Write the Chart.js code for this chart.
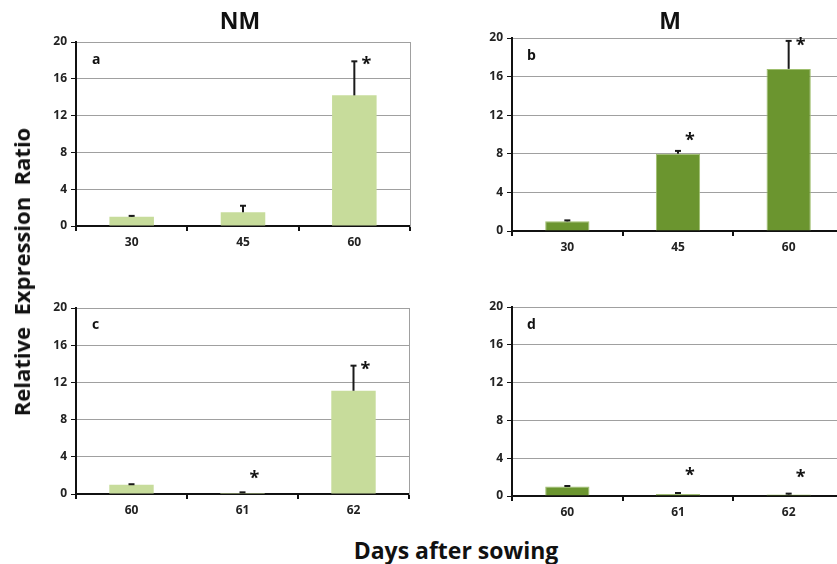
<!DOCTYPE html>
<html><head><meta charset="utf-8">
<script src="https://cdn.jsdelivr.net/npm/chart.js@4"></script>
<style>
html,body{margin:0;padding:0;width:837px;height:564px;overflow:hidden;background:#fff;font-family:"Open Sans",sans-serif;}
.box{position:absolute;}
.t{position:absolute;font-weight:bold;color:#111;white-space:nowrap;}
</style></head><body>
<div class="box" style="left:30px;top:30px;width:386px;height:220px;"><canvas id="ca"></canvas></div>
<div class="box" style="left:466px;top:26px;width:390px;height:229px;"><canvas id="cb"></canvas></div>
<div class="box" style="left:30px;top:296px;width:386px;height:222px;"><canvas id="cc"></canvas></div>
<div class="box" style="left:466px;top:295px;width:390px;height:225px;"><canvas id="cd"></canvas></div>
<div class="t" style="left:240px;top:20px;font-size:23px;transform:translate(-50%,-50%);">NM</div>
<div class="t" style="left:670px;top:20px;font-size:23px;transform:translate(-50%,-50%);">M</div>
<div class="t" id="ytitle" style="left:21px;top:272px;font-size:22px;transform:translate(-50%,-50%) rotate(-90deg);">Relative&nbsp; Expression&nbsp; Ratio</div>
<div class="t" style="left:456px;top:550px;font-size:23px;transform:translate(-50%,-50%);">Days after sowing</div>
<div class="t" style="left:92px;top:49px;font-size:14px;">a</div>
<div class="t" style="left:527px;top:45px;font-size:14px;">b</div>
<div class="t" style="left:92px;top:314px;font-size:14px;">c</div>
<div class="t" style="left:527px;top:314px;font-size:14px;">d</div>
<script>
// Categories (days after sowing)
const daysTop = ["30", "45", "60"];
const daysBottom = ["60", "61", "62"];
// Relative expression ratio (mean) and upper error
const nmTop = [1.0, 1.5, 14.2];
const nmTopErr = [0.1, 0.7, 3.7];
const mTop = [1.0, 8.0, 16.8];
const mTopErr = [0.1, 0.3, 2.9];
const nmBottom = [1.0, 0.1, 11.1];
const nmBottomErr = [0.05, 0.08, 2.7];
const mBottom = [1.0, 0.2, 0.15];
const mBottomErr = [0.06, 0.12, 0.1];
// Significance marks (value level where the asterisk sits, null = none)
const nmTopStar = [null, null, 17.8];
const mTopStar = [null, 9.7, 19.5];
const nmBottomStar = [null, 2.0, 13.7];
const mBottomStar = [null, 2.4, 2.2];
const yTicks = [0, 4, 8, 12, 16, 20];

const LIGHT = "#c7dc9b", DARK = "#6b952f";

const errPlugin = {
  id: "errbars",
  afterDatasetsDraw(chart) {
    const ctx = chart.ctx;
    const ds = chart.data.datasets[0];
    const meta = chart.getDatasetMeta(0);
    const ys = chart.scales.y;
    ctx.save();
    meta.data.forEach((bar, i) => {
      const top = ys.getPixelForValue(ds.data[i] + ds.err[i]);
      const base = ys.getPixelForValue(ds.data[i]);
      ctx.strokeStyle = "#1a1a1a";
      ctx.lineWidth = 2;
      ctx.beginPath();
      ctx.moveTo(bar.x, base);
      ctx.lineTo(bar.x, top);
      ctx.stroke();
      ctx.beginPath();
      ctx.moveTo(bar.x - 3, top);
      ctx.lineTo(bar.x + 3, top);
      ctx.stroke();
      if (ds.star[i] != null) {
        ctx.fillStyle = "#111";
        ctx.font = "bold 18px 'Open Sans', sans-serif";
        ctx.textAlign = "center";
        ctx.textBaseline = "middle";
        ctx.fillText("*", bar.x + 12, ys.getPixelForValue(ds.star[i]) + 3);
      }
    });
    ctx.restore();
  }
};

function makeChart(id, labels, values, errs, stars, color, pad) {
  new Chart(document.getElementById(id), {
    type: "bar",
    data: {
      labels: labels,
      datasets: [{ data: values, err: errs, star: stars, backgroundColor: color,
        borderColor: color === DARK ? "#9fbf6e" : color, borderWidth: color === DARK ? 1 : 0,
        categoryPercentage: 1.0, barPercentage: 0.4 }]
    },
    options: {
      responsive: true, maintainAspectRatio: false, animation: false,
      layout: { padding: pad },
      plugins: { legend: { display: false }, tooltip: { enabled: false } },
      scales: {
        x: {
          offset: true,
          grid: { offset: true, drawOnChartArea: false, drawTicks: true, tickLength: 5, color: "#111", lineWidth: 2 },
          border: { display: true, color: "#111", width: 2 },
          ticks: { color: "#222", padding: 4, font: { family: "Open Sans", weight: "bold", size: 12 } },
          afterFit(s) { s.height = 24; }
        },
        y: {
          min: 0, max: 20,
          afterBuildTicks(s) { s.ticks = yTicks.map(v => ({ value: v })); },
          grid: { color: "#a0a0a0", lineWidth: 1, tickColor: "#111", tickLength: 5 },
          border: { display: true, color: "#111", width: 2 },
          ticks: { color: "#222", padding: 4, font: { family: "Open Sans", weight: "bold", size: 12 } },
          afterFit(s) { s.width = 46; }
        },
        y2: {
          position: "right", min: 0, max: 20, display: true,
          grid: { display: false, drawTicks: false },
          ticks: { display: false },
          border: { display: true, color: "#a0a0a0", width: 1 },
          afterFit(s) { s.width = 0; }
        }
      }
    },
    plugins: [errPlugin]
  });
}

makeChart("ca", daysTop, nmTop, nmTopErr, nmTopStar, LIGHT, { top: 12, right: 6, bottom: 0, left: 0 });
makeChart("cb", daysTop, mTop, mTopErr, mTopStar, DARK, { top: 12, right: 12, bottom: 0, left: 0 });
makeChart("cc", daysBottom, nmBottom, nmBottomErr, nmBottomStar, LIGHT, { top: 12, right: 7, bottom: 0, left: 0 });
makeChart("cd", daysBottom, mBottom, mBottomErr, mBottomStar, DARK, { top: 12, right: 12, bottom: 0, left: 0 });
</script>
</body></html>
